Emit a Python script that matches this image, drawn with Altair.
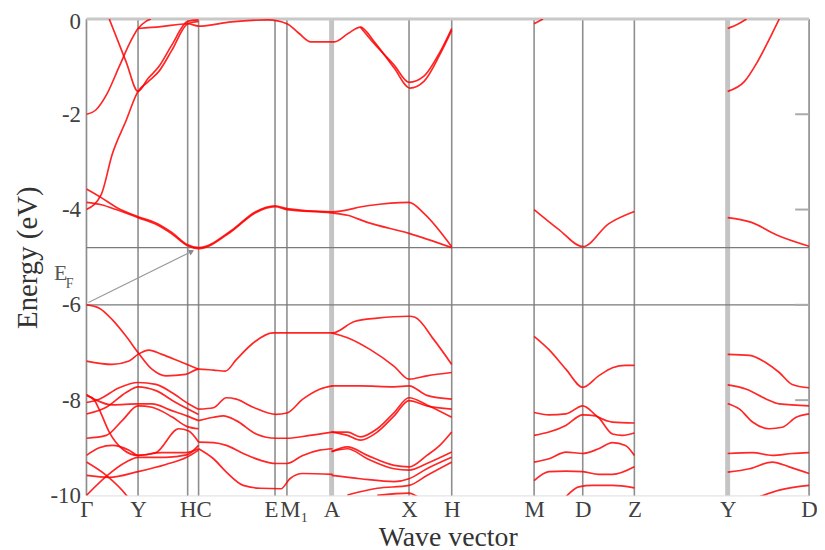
import altair as alt
import pandas as pd

# k-point positions along the path (arbitrary distance units) and labels
KPOS = [0, 52, 102, 113, 190, 202, 247, 325, 368, 451, 500, 552, 646, 728]
KLAB = ["Γ", "Y", "H", "C", "E", "M₁", "A", "X", "H", "M", "D", "Z", "Y", "D"]
KPOS_WIDE = [247, 646]
KPOS_THIN = [0, 52, 102, 113, 190, 202, 325, 368, 451, 500, 552, 728]
HLINES = [-4.8, -6.0]
YTICKS = [0, -2, -4, -6, -8, -10]
RTICKS = [-2, -4, -6, -8]

# Bands near the top (0 .. -2 eV)
bands_top = [
    [(23, 0), (40, -0.9), (52, -1.52), (62, -1.25), (73, -1.0), (86, -0.55), (102, -0.05), (113, -0.02)],
    [(0, -4.0), (15, -3.68), (26, -2.84), (40, -2.13), (52, -1.52), (62, -1.32), (73, -1.1), (86, -0.66), (102, -0.1), (113, -0.05)],
    [(0, -2.0), (10, -1.9), (20, -1.6), (33, -1.0), (45, -0.45), (52, -0.2), (60, -0.05), (65, 0)],
    [(52, -0.2), (75, -0.16), (102, -0.1), (113, -0.15), (146, -0.06), (183, -0.02), (202, -0.1), (214, -0.3),
     (226, -0.48), (250, -0.48), (264, -0.3), (276, -0.17), (290, -0.48), (310, -1.03), (326, -1.45),
     (340, -1.31), (356, -0.75), (368, -0.24)],
    [(276, -0.17), (290, -0.52), (310, -0.97), (325, -1.33), (340, -1.2), (356, -0.7), (368, -0.2)],
    [(451, -0.1), (460, 0)],
    [(646, -0.2), (657, -0.1), (665, 0)],
    [(646, -1.52), (663, -1.31), (676, -0.9), (690, -0.34), (698, 0)],
]

# Bands just above the gap (-3.5 .. -4.8 eV)
bands_mid = [
    [(0, -3.57), (15, -3.75), (30, -3.95), (52, -4.15), (70, -4.28), (86, -4.48), (102, -4.74), (113, -4.8),
     (146, -4.44), (170, -4.05), (190, -3.92), (202, -3.98), (247, -4.05), (283, -3.92), (325, -3.85),
     (340, -4.08), (368, -4.78)],
    [(0, -3.85), (15, -3.9), (30, -4.0), (52, -4.17), (70, -4.31), (86, -4.51), (102, -4.76), (113, -4.82),
     (146, -4.46), (170, -4.07), (190, -3.94), (202, -4.0), (247, -4.07), (263, -4.12), (283, -4.27),
     (325, -4.5), (368, -4.8)],
    [(451, -4.0), (476, -4.42), (500, -4.78), (526, -4.3), (552, -4.04)],
    [(646, -4.17), (670, -4.27), (696, -4.54), (728, -4.77)],
]

# Bands below the gap, Gamma -> C
bands_gc = [
    [(0, -6.0), (13, -6.07), (26, -6.31), (40, -6.66), (52, -7.0), (66, -7.35), (80, -7.49), (100, -7.46),
     (113, -7.35), (128, -7.37), (140, -7.39), (151, -7.15), (168, -6.8), (188, -6.59), (202, -6.59),
     (248, -6.59), (270, -6.35), (293, -6.28), (325, -6.24), (331, -6.26), (350, -6.73), (368, -7.25)],
    [(0, -7.18), (26, -7.25), (43, -7.18), (52, -7.04), (63, -6.95), (76, -7.04), (93, -7.18), (113, -7.35)],
    [(0, -8.05), (13, -7.98), (33, -7.74), (52, -7.63), (70, -7.67), (86, -7.84), (103, -8.08), (113, -8.19)],
    [(0, -8.29), (20, -8.15), (40, -7.84), (52, -7.72), (70, -7.8), (90, -8.05), (113, -8.3)],
    [(0, -7.88), (10, -8.0), (26, -8.1), (52, -8.08), (66, -8.08), (86, -8.22), (101, -8.33), (113, -8.43)],
    [(0, -8.8), (20, -8.74), (36, -8.43), (52, -8.12), (66, -8.15), (86, -8.35), (101, -8.55), (113, -8.6)],
    [(0, -7.9), (8, -8.0), (13, -8.2), (23, -8.67), (36, -9.02), (52, -9.16), (70, -9.1), (93, -8.6),
     (103, -8.65), (113, -8.88)],
    [(0, -9.16), (13, -9.0), (26, -8.95), (43, -9.05), (52, -9.16), (76, -9.1), (100, -9.1), (113, -9.02)],
    [(0, -9.58), (23, -9.62), (52, -9.5), (80, -9.35), (101, -9.2), (113, -9.05)],
    [(0, -9.3), (20, -9.58), (40, -9.99), (44, -10.1)],
    [(0, -10.0), (20, -9.6), (40, -9.3), (52, -9.2), (80, -9.2), (101, -9.15), (113, -8.95)],
]

# C -> E -> M1 -> A
bands_ca = [
    [(113, -8.19), (128, -8.16), (141, -7.95), (151, -7.98), (168, -8.15), (191, -8.3), (202, -8.27),
     (218, -7.98), (235, -7.77), (248, -7.7)],
    [(113, -8.43), (128, -8.36), (138, -8.33), (151, -8.43), (171, -8.71), (191, -8.8), (202, -8.8),
     (225, -8.74), (248, -8.67)],
    [(113, -8.88), (128, -8.89), (141, -8.95), (158, -9.12), (175, -9.26), (191, -9.33), (202, -9.33),
     (218, -9.16), (235, -9.05), (248, -9.02)],
    [(113, -9.02), (128, -9.23), (141, -9.51), (158, -9.79), (175, -9.85), (196, -9.86), (205, -9.65),
     (218, -9.54), (248, -9.56)],
]

# A -> X -> H
bands_ah = [
    [(247, -6.59), (263, -6.69), (286, -6.94), (310, -7.29), (325, -7.56), (343, -7.49), (368, -7.42)],
    [(247, -7.7), (276, -7.7), (310, -7.72), (325, -7.7), (343, -7.9), (368, -7.98)],
    [(247, -8.67), (263, -8.67), (276, -8.77), (293, -8.6), (310, -8.26), (325, -7.95), (343, -8.1), (368, -8.36)],
    [(247, -8.67), (263, -8.74), (276, -8.84), (293, -8.67), (310, -8.33), (325, -8.01), (343, -8.12), (368, -8.19)],
    [(247, -9.08), (263, -8.98), (283, -9.16), (310, -9.37), (325, -9.4), (343, -9.16), (356, -8.95), (368, -8.67)],
    [(247, -9.08), (263, -9.02), (283, -9.23), (310, -9.44), (325, -9.47), (343, -9.33), (368, -9.09)],
    [(247, -9.58), (276, -9.65), (310, -9.71), (325, -9.65), (343, -9.44), (368, -9.2)],
    [(263, -9.99), (293, -9.85), (325, -9.79), (343, -9.58), (368, -9.3)],
    [(293, -10.0), (325, -9.95), (335, -10.05)],
]

# M -> D -> Z
bands_mz = [
    [(451, -6.66), (466, -6.94), (483, -7.35), (500, -7.73), (516, -7.49), (530, -7.32), (543, -7.27), (552, -7.27)],
    [(451, -8.26), (466, -8.31), (483, -8.29), (500, -8.12), (516, -8.36), (530, -8.46), (552, -8.48)],
    [(451, -8.74), (466, -8.67), (483, -8.53), (500, -8.31), (513, -8.33), (530, -8.71), (540, -8.74), (552, -8.69)],
    [(451, -9.3), (466, -9.23), (483, -9.09), (500, -9.12), (516, -9.02), (530, -8.89), (543, -8.95), (552, -9.16)],
    [(451, -9.69), (466, -9.5), (483, -9.49), (500, -9.5), (516, -9.56), (530, -9.56), (552, -9.4)],
    [(483, -10.03), (496, -9.82), (510, -9.79), (530, -9.79), (552, -9.84)],
]

# Y -> D
bands_yd = [
    [(646, -7.04), (668, -7.06), (685, -7.22), (698, -7.42), (711, -7.67), (728, -7.74)],
    [(646, -7.68), (665, -7.77), (685, -7.98), (698, -8.08), (728, -8.12)],
    [(646, -8.07), (658, -8.19), (671, -8.46), (688, -8.6), (701, -8.57), (715, -8.36), (728, -8.29)],
    [(646, -9.12), (671, -9.1), (691, -9.16), (711, -9.12), (728, -9.1)],
    [(646, -9.51), (668, -9.44), (691, -9.3), (708, -9.4), (728, -9.54)],
    [(678, -10.03), (698, -9.89), (728, -9.79)],
]

# Fermi-level annotation (k, E)
EF_ARROW_K = [2, 106]
EF_ARROW_E = [-5.95, -4.88]
EF_E_POS = (-26, -5.33)
EF_F_POS = (-17, -5.56)

rows = []
for name, seg in [("top", bands_top), ("mid", bands_mid), ("gc", bands_gc), ("ca", bands_ca),
                  ("ah", bands_ah), ("mz", bands_mz), ("yd", bands_yd)]:
    for j, band in enumerate(seg):
        for i, (k, e) in enumerate(band):
            rows.append({"band": f"{name}{j}", "k": k, "E": e, "o": i})
df = pd.DataFrame(rows)

SERIF = "'Liberation Serif', 'Times New Roman', 'DejaVu Serif', serif"
label_expr = " : ".join(f"datum.value == {k} ? '{l}'" for k, l in zip(KPOS, KLAB)) + " : ''"

xscale = alt.Scale(domain=[0, 728], nice=False, zero=False)
yscale = alt.Scale(domain=[-10, 0], nice=False, zero=False)

x_axis = alt.Axis(
    values=KPOS, labelExpr=label_expr, labelFont=SERIF, labelFontSize=23, labelColor="#404040",
    ticks=False, domain=False, grid=False, labelPadding=3, labelOverlap=False, labelFlush=False,
    labelBound=False, title="Wave vector", titleFont=SERIF, titleFontSize=28, titleFontWeight="normal",
    titleColor="#333333", titlePadding=2,
    labelOffset={"condition": [
        {"test": "datum.value == 113", "value": 5},
        {"test": "datum.value == 202", "value": 7},
        {"test": "datum.value == 190", "value": -4},
    ], "value": 0},
)
y_axis = alt.Axis(
    values=YTICKS, labelExpr="datum.value < 0 ? '-' + (-datum.value) : '' + datum.value",
    labelFont=SERIF, labelFontSize=23, labelColor="#404040", ticks=False, domain=False, grid=False,
    labelPadding=6, title="Energy (eV)", titleFont=SERIF, titleFontSize=29, titleFontWeight="normal",
    titleColor="#333333", titlePadding=8,
    labelOffset={"condition": {"test": "datum.value == 0", "value": 3}, "value": 0},
)

X = alt.X("k:Q", scale=xscale, axis=x_axis)
Y = alt.Y("E:Q", scale=yscale, axis=y_axis)

wide = alt.Chart(pd.DataFrame({"k": KPOS_WIDE})).mark_rule(color="#c4c4c4", strokeWidth=5).encode(x=X)
thin = alt.Chart(pd.DataFrame({"k": KPOS_THIN})).mark_rule(color="#8e8e8e", strokeWidth=1.6).encode(x=X)
hl = alt.Chart(pd.DataFrame({"E": HLINES})).mark_rule(color="#7a7a7a", strokeWidth=1.2).encode(y=Y)
top_border = alt.Chart(pd.DataFrame({"E": [0]})).mark_rule(color="#c8c8c8", strokeWidth=3).encode(y=Y)
rt = alt.Chart(pd.DataFrame({"E": RTICKS})).mark_rule(color="#aaaaaa", strokeWidth=2).encode(
    y=Y, x=alt.value(714), x2=alt.value(728))

lines = alt.Chart(df).mark_line(color="#ff0000", strokeWidth=1.7, opacity=0.85, interpolate="monotone",
                                clip=True).encode(x=X, y=Y, detail="band:N", order="o:Q")

arrow_df = pd.DataFrame({"k": EF_ARROW_K, "E": EF_ARROW_E})
arrow = alt.Chart(arrow_df).mark_line(color="#9a9a9a", strokeWidth=1.2, clip=False).encode(x=X, y=Y)
head = alt.Chart(arrow_df.iloc[[1]]).mark_point(shape="triangle-right", angle=334, size=40, filled=True,
                                                 color="#8a8a8a", opacity=1).encode(x=X, y=Y)
ef_e = alt.Chart(pd.DataFrame({"k": [EF_E_POS[0]], "E": [EF_E_POS[1]], "t": ["E"]})).mark_text(
    font=SERIF, fontSize=22, color="#555555", clip=False).encode(x=X, y=Y, text="t:N")
ef_f = alt.Chart(pd.DataFrame({"k": [EF_F_POS[0]], "E": [EF_F_POS[1]], "t": ["F"]})).mark_text(
    font=SERIF, fontSize=14, color="#555555", clip=False).encode(x=X, y=Y, text="t:N")

chart = alt.layer(wide, thin, hl, top_border, rt, lines, arrow, head, ef_e, ef_f).properties(
    width=728, height=480,
    autosize=alt.AutoSizeParams(type="none"),
    padding={"left": 79, "top": 9, "right": 8, "bottom": 62},
).configure_view(stroke="#8e8e8e", strokeWidth=1.5).configure(background="white")

chart.save("out.html", embed_options={"renderer": "svg", "actions": False})
